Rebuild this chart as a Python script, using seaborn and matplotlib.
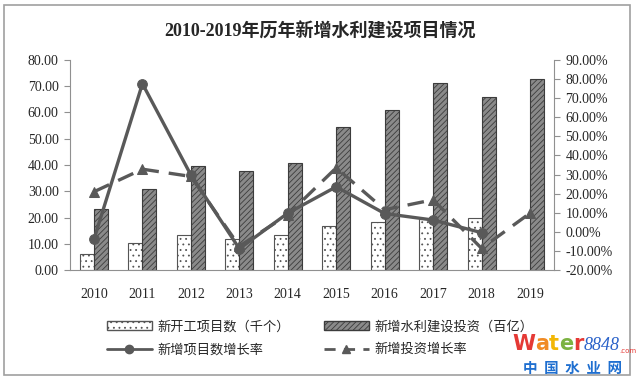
import pandas as pd
import matplotlib.pyplot as plt
import seaborn as sns
from matplotlib.patches import Patch, Rectangle
from matplotlib.lines import Line2D
from matplotlib.ticker import FormatStrFormatter

# data
years = ['2010', '2011', '2012', '2013', '2014', '2015', '2016', '2017', '2018', '2019']
projects = [6.0, 10.5, 13.5, 12.0, 13.5, 16.8, 18.4, 19.5, 20.0, None]   # 千个
invest = [23.2, 30.9, 39.6, 37.6, 40.9, 54.5, 60.9, 71.0, 66.0, 72.6]    # 百亿
proj_growth = [-3.8, 77.5, 29.8, -8.8, 9.8, 23.6, 9.6, 6.2, -0.4, None]  # %
inv_growth = [21.0, 32.8, 29.0, -7.5, 9.0, 33.5, 11.6, 16.8, -8.6, 9.8]  # %

name_proj = '新开工项目数（千个）'
name_inv = '新增水利建设投资（百亿）'
name_pg = '新增项目数增长率'
name_ig = '新增投资增长率'

df = pd.DataFrame({
    'year': years * 2,
    'value': projects + invest,
    'kind': [name_proj] * 10 + [name_inv] * 10,
})

sns.set_style('white')
plt.rcParams['font.family'] = ['Liberation Serif', 'Noto Sans CJK SC']
plt.rcParams['hatch.linewidth'] = 0.6

fig = plt.figure(figsize=(6.4, 3.81), dpi=100)
ax = fig.add_axes([0.109, 0.291, 0.757, 0.552])

sns.barplot(data=df, x='year', y='value', hue='kind', order=years,
            hue_order=[name_proj, name_inv], width=0.58, ax=ax, legend=False)

# style the two bar series
for bar in ax.containers[0]:
    bar.set_facecolor('white')
    bar.set_edgecolor('#555555')
    bar.set_hatch('...')
    bar.set_linewidth(0.8)
for bar in ax.containers[1]:
    bar.set_facecolor('#8a8a8a')
    bar.set_edgecolor('#3c3c3c')
    bar.set_hatch('//////')
    bar.set_linewidth(0.8)

ax.set_ylim(0, 80)
ax.set_yticks(range(0, 81, 10))
ax.yaxis.set_major_formatter(FormatStrFormatter('%.2f'))
ax.set_xlim(-0.5, 9.5)
ax.set_xlabel('')
ax.set_ylabel('')
ax.set_xticks([i - 0.5 for i in range(11)], minor=True)
ax.tick_params(axis='x', which='major', length=0, pad=13, labelsize=10)
ax.tick_params(axis='x', which='minor', length=4, color='#909090', direction='out')
ax.tick_params(axis='y', length=4, color='#909090', direction='out', left=True, labelsize=10, pad=4)
for s in ['top', 'right']:
    ax.spines[s].set_visible(False)
for s in ['left', 'bottom']:
    ax.spines[s].set_color('#909090')

# growth-rate lines on the right axis
ax2 = ax.twinx()
xs = list(range(10))
line_color = '#595959'
sns.lineplot(x=xs, y=proj_growth, ax=ax2, color=line_color, linewidth=2.4,
             marker='o', markersize=7, markeredgecolor=line_color)
sns.lineplot(x=xs, y=inv_growth, ax=ax2, color=line_color, linewidth=2.4,
             marker='^', markersize=7, markeredgecolor=line_color)
ax2.lines[1].set_dashes([5, 3])

ax2.set_ylim(-20, 90)
ax2.set_yticks(range(-20, 91, 10))
ax2.yaxis.set_major_formatter(FormatStrFormatter('%.2f%%'))
ax2.tick_params(axis='y', length=4, color='#909090', direction='out', right=True, labelsize=10, pad=4)
for s in ['top', 'left', 'bottom']:
    ax2.spines[s].set_visible(False)
ax2.spines['right'].set_color('#909090')
ax2.set_xlim(-0.5, 9.5)

fig.text(0.5, 0.917, '2010-2019年历年新增水利建设项目情况', ha='center', va='center',
         fontsize=13, fontweight='bold')

# legend: column-wise fill, so order is dotted, solid, gray, dashed
handles = [
    Patch(facecolor='white', edgecolor='#555555', hatch='...', label=name_proj),
    Line2D([], [], color=line_color, linewidth=2, marker='o', markersize=6, label=name_pg),
    Patch(facecolor='#8a8a8a', edgecolor='#3c3c3c', hatch='//////', label=name_inv),
    Line2D([], [], color=line_color, linewidth=2, marker='^', markersize=6, dashes=[4, 3], label=name_ig),
]
fig.legend(handles=handles, loc='center', bbox_to_anchor=(0.5, 0.112), ncol=2, frameon=False,
           prop={'family': 'Noto Sans CJK SC', 'size': 9.5}, columnspacing=2.6, handlelength=3.4,
           handletextpad=0.4, labelspacing=0.75)

# watermark, letters chained one after another
wm = [('W', '#e53935'), ('a', '#f08a24'), ('t', '#f2b705'), ('e', '#7cb342'), ('r', '#e53935')]
prev = fig.text(0.800, 0.082, wm[0][0], color=wm[0][1], fontsize=15, fontweight='bold',
                family='DejaVu Sans', va='baseline')
for ch, c in wm[1:]:
    prev = fig.add_artist(plt.Annotation(ch, xy=(1, 0), xycoords=prev, color=c, fontsize=15,
                                         fontweight='bold', family='DejaVu Sans', va='bottom'))
prev = fig.add_artist(plt.Annotation('8848', xy=(1, 0), xycoords=prev, color='#2a62c9', fontsize=13,
                                     style='italic', va='bottom'))
fig.add_artist(plt.Annotation('.com', xy=(1, 0), xycoords=prev, color='#e53935', fontsize=5,
                              va='bottom', family='DejaVu Sans'))
fig.text(0.895, 0.035, '中  国  水  业  网', color='#1f6fd0', fontsize=10.5, ha='center', va='center',
         family='Noto Sans CJK SC', fontweight='bold')

fig.patches.append(Rectangle((0.006, 0.015), 0.978, 0.972, transform=fig.transFigure,
                             fill=False, edgecolor='#a0a0a0', linewidth=1.2))

fig.savefig('out.png', dpi=100)
